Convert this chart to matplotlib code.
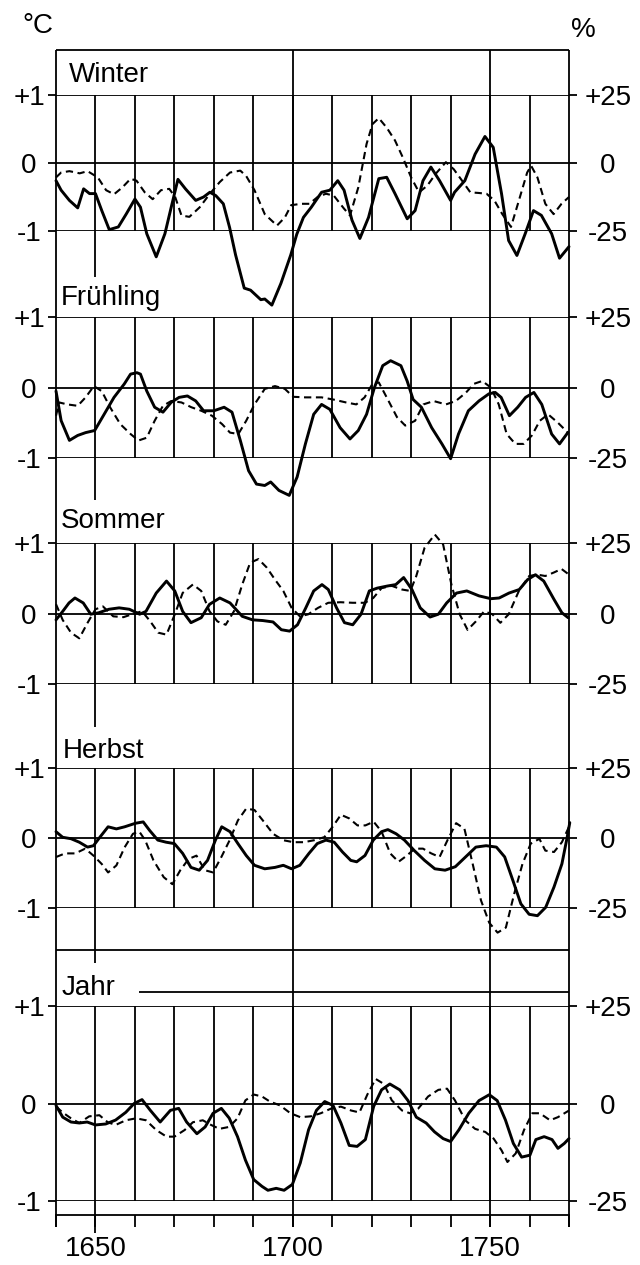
import matplotlib
matplotlib.use("Agg")
import matplotlib.pyplot as plt
import numpy as np

plt.rcParams['font.family'] = ['Liberation Sans', 'DejaVu Sans']

# Temperaturabweichung (°C, durchgezogen) und Niederschlag (%, gestrichelt)
WINTER_T = [(1640, -0.26), (1641.3, -0.40), (1643.4, -0.55), (1645.5, -0.66), (1647, -0.38),
            (1648.5, -0.45), (1650, -0.45), (1651.6, -0.70), (1653.5, -0.98), (1655.8, -0.94),
            (1657.8, -0.75), (1660, -0.53), (1661.4, -0.65), (1663, -1.04), (1665.4, -1.38),
            (1667.6, -1.04), (1669.2, -0.65), (1670.9, -0.24), (1672.8, -0.38), (1675.4, -0.55),
            (1677.4, -0.50), (1679, -0.43), (1680.5, -0.48), (1682.4, -0.60), (1684, -0.95),
            (1685.5, -1.35), (1687.7, -1.84), (1689.3, -1.87), (1691.9, -2.01), (1692.9, -2.00),
            (1694.7, -2.09), (1697, -1.77), (1699.5, -1.35), (1701, -1.05), (1702.7, -0.80),
            (1704.7, -0.65), (1707.3, -0.43), (1709.4, -0.40), (1711.4, -0.26), (1713, -0.40),
            (1715, -0.84), (1717, -1.11), (1719.2, -0.80), (1721.8, -0.23), (1723.8, -0.21),
            (1725.9, -0.45), (1729, -0.82), (1731, -0.70), (1733, -0.26), (1735, -0.06),
            (1737.2, -0.26), (1740, -0.55), (1741, -0.43), (1743.6, -0.26), (1746.2, 0.13),
            (1748.7, 0.39), (1750.8, 0.23), (1752.9, -0.45), (1754.7, -1.14), (1756.8, -1.36),
            (1758.9, -1.04), (1761, -0.70), (1763, -0.77), (1765.6, -1.04), (1767.6, -1.40),
            (1770, -1.23)]
WINTER_P = [(1640, -5.3), (1641.3, -3.5), (1643.4, -3), (1646, -3.8), (1648, -3), (1650.6, -5.3),
            (1652.7, -10), (1654.7, -11.5), (1656.8, -9), (1658.9, -5.8), (1660.4, -6.5),
            (1662.5, -10.8), (1664.5, -13.3), (1666.6, -10), (1668.7, -9.5), (1670.2, -12.5),
            (1671.8, -19.3), (1673.8, -19.8), (1676.4, -16.3), (1679, -11.3), (1681.5, -7),
            (1684.1, -3.5), (1686.7, -2.8), (1688.2, -4.8), (1690.3, -10), (1692.9, -18.8),
            (1696, -23), (1698, -20), (1699.6, -15.5), (1702.2, -15), (1704.2, -15), (1706.3, -12.5),
            (1708.4, -11.3), (1710.4, -12), (1713, -16.8), (1714.5, -19.3), (1716.6, -9),
            (1718.7, 7), (1720.2, 14.3), (1721.8, 16.5), (1723.8, 13), (1725.9, 8.3), (1727.9, 2),
            (1730, -5.3), (1732, -10.8), (1734.1, -8.3), (1736.2, -4), (1738.8, 0.3), (1740.8, -2.3),
            (1742.9, -6.5), (1745, -10.8), (1747, -11), (1749.1, -11.3), (1751.1, -13.8),
            (1753.1, -18.8), (1755.3, -23.5), (1757.3, -13.8), (1759.4, -3.5), (1760.4, -1),
            (1762, -5.3), (1764, -15), (1766.1, -18.8), (1768.1, -15), (1770, -12.5)]

FRUEHLING_T = [(1640, -0.05), (1641.3, -0.47), (1643.4, -0.75), (1645.5, -0.68), (1647.5, -0.64),
               (1649.8, -0.61), (1652.2, -0.38), (1654.7, -0.14), (1657.3, 0.05), (1658.9, 0.19),
               (1660.5, 0.21), (1661.4, 0.19), (1663, -0.05), (1665, -0.28), (1667.1, -0.35),
               (1669.2, -0.21), (1671.2, -0.14), (1673.3, -0.12), (1675.4, -0.19), (1677.4, -0.33),
               (1680, -0.33), (1682.6, -0.28), (1684.6, -0.35), (1686.7, -0.75), (1688.8, -1.18),
               (1690.8, -1.37), (1692.9, -1.39), (1694.4, -1.34), (1696.5, -1.46), (1699.1, -1.53),
               (1701.1, -1.27), (1703.2, -0.80), (1705.3, -0.38), (1707.3, -0.24), (1709.4, -0.31),
               (1712, -0.57), (1714.5, -0.73), (1716.6, -0.61), (1718.7, -0.38), (1720.7, 0),
               (1722.8, 0.31), (1724.8, 0.38), (1727.4, 0.31), (1729, 0.09), (1730.5, -0.17),
               (1732.6, -0.28), (1735.2, -0.57), (1737.8, -0.80), (1740, -1.01), (1742, -0.66),
               (1744.5, -0.33), (1747.2, -0.19), (1749.7, -0.09), (1751.3, -0.07), (1752.8, -0.14),
               (1754.9, -0.40), (1757, -0.28), (1759, -0.14), (1761.1, -0.07), (1763.1, -0.24),
               (1765.6, -0.66), (1767.6, -0.80), (1769.7, -0.64)]
FRUEHLING_P = [(1640, -10), (1640.8, -5.3), (1642.9, -6), (1645.5, -6.5), (1647.5, -3.5),
               (1649.6, 0.5), (1651.6, -1.3), (1653.7, -7), (1656.3, -13), (1658.9, -16.5),
               (1660.9, -18.8), (1663, -17.8), (1665, -11.8), (1667.1, -6.5), (1669.2, -4.8),
               (1671.8, -5.3), (1674.3, -7), (1676.9, -8.3), (1679.5, -10), (1682.1, -13),
               (1684.1, -16), (1686.2, -16.5), (1688.2, -11.8), (1690.3, -6), (1692.9, -0.5),
               (1695.5, 0.5), (1698, -0.5), (1700.1, -3.3), (1703.2, -3.5), (1707.3, -3.5),
               (1710.4, -4.3), (1713.5, -5.3), (1716.1, -6), (1718.2, -3.5), (1720.2, 1.3),
               (1721.8, 1.8), (1723.8, -3.5), (1726.4, -10.5), (1728.5, -13.5), (1731, -11.8),
               (1733.1, -6), (1735.7, -4.8), (1738.8, -6), (1741.3, -4.8), (1743.9, -1.8),
               (1745.9, 1.3), (1748, 2.3), (1750.2, 0), (1752.2, -6), (1754.2, -16.5),
               (1756.4, -20), (1758.5, -20), (1760.6, -17), (1762.6, -11.8), (1764.7, -9.5),
               (1767.2, -12.5), (1769.7, -16)]

SOMMER_T = [(1640, -0.09), (1641.7, 0.03), (1643.3, 0.15), (1644.8, 0.22), (1646.9, 0.15),
            (1648.8, -0.01), (1650.8, 0.01), (1653.4, 0.06), (1656, 0.08), (1658.6, 0.06),
            (1661.2, -0.01), (1662.8, 0.03), (1665.4, 0.29), (1668, 0.46), (1670.1, 0.32),
            (1672.1, 0.03), (1674.2, -0.13), (1676.8, -0.06), (1678.9, 0.13), (1681.5, 0.22),
            (1684.1, 0.15), (1687.2, -0.04), (1689.8, -0.09), (1692.4, -0.10), (1695, -0.12),
            (1697.1, -0.23), (1699.2, -0.25), (1701.2, -0.16), (1703.3, 0.08), (1705.3, 0.32),
            (1707.4, 0.41), (1709, 0.34), (1711.1, 0.08), (1713.1, -0.13), (1715.2, -0.16),
            (1717.3, -0.01), (1719.4, 0.32), (1721.4, 0.36), (1724, 0.39), (1726.1, 0.41),
            (1728.1, 0.51), (1730.2, 0.34), (1732.3, 0.08), (1734.8, -0.05), (1736.9, -0.01),
            (1739, 0.15), (1741.5, 0.29), (1744.1, 0.32), (1747.2, 0.25), (1750.2, 0.21),
            (1752.3, 0.22), (1754.8, 0.29), (1757.4, 0.34), (1759.5, 0.48), (1761.5, 0.55),
            (1763.6, 0.46), (1766.2, 0.20), (1768.2, 0.01), (1769.8, -0.06)]
SOMMER_P = [(1640, 3.3), (1641.7, -2.3), (1643.8, -6.8), (1645.9, -8.8), (1648, -3.3), (1650, 1.5),
            (1651.9, 2.5), (1654.5, -1), (1657.1, -1.3), (1659.2, -0.3), (1661.8, 0.8),
            (1663.9, -2.8), (1665.9, -6.8), (1668, -7.5), (1670.1, -0.3), (1672.1, 7.3),
            (1674.7, 10.3), (1676.8, 8), (1678.9, 0.8), (1680.9, -2.8), (1683, -4), (1685.1, 0.8),
            (1687.2, 10.3), (1689.2, 18), (1691.3, 19.3), (1693.4, 16.3), (1695.5, 12),
            (1697.6, 8), (1699.7, 2), (1701.8, -1), (1703.9, -0.3), (1706.4, 2), (1709, 3.8),
            (1712.1, 4), (1715.2, 3.8), (1718.3, 3.8), (1720.4, 5.5), (1722.5, 9), (1725.1, 9.8),
            (1727.7, 8.5), (1729.8, 8), (1731.3, 13.3), (1733.4, 23.3), (1736, 28), (1738.1, 24.5),
            (1740.2, 10.3), (1742.3, -0.3), (1744.3, -5.8), (1746.4, -2.8), (1748.5, 0.8),
            (1750.6, -0.3), (1752.6, -3.3), (1754.7, -0.3), (1757.3, 8), (1759.9, 13.3),
            (1761.9, 13.8), (1764, 13.3), (1766.1, 14.5), (1768.1, 15.8), (1770, 13.8)]

HERBST_T = [(1640, 0.09), (1641.7, 0.01), (1643.8, -0.01), (1645.9, -0.06), (1648, -0.13),
            (1649.5, -0.11), (1651.1, 0.01), (1653.2, 0.16), (1655.3, 0.13), (1657.4, 0.16),
            (1660.1, 0.21), (1662.1, 0.23), (1663.7, 0.11), (1665.8, -0.03), (1667.9, -0.06),
            (1670, -0.08), (1672.1, -0.22), (1674.2, -0.42), (1676.3, -0.46), (1678.4, -0.32),
            (1680.4, -0.03), (1682, 0.16), (1684.1, 0.09), (1686.1, -0.08), (1688.2, -0.25),
            (1690.3, -0.39), (1692.9, -0.44), (1695.5, -0.42), (1697.6, -0.39), (1699.7, -0.44),
            (1701.8, -0.39), (1704.1, -0.22), (1706.2, -0.08), (1708.4, -0.03), (1710.5, -0.06),
            (1712.6, -0.20), (1714.7, -0.32), (1716.2, -0.34), (1718.3, -0.25), (1720.4, -0.03),
            (1722.5, 0.09), (1724.1, 0.12), (1726.2, 0.06), (1728.3, -0.03), (1730.8, -0.18),
            (1733.4, -0.32), (1736, -0.44), (1738.6, -0.46), (1741.2, -0.41), (1743.8, -0.27),
            (1746.4, -0.13), (1749, -0.11), (1751.6, -0.13), (1753.7, -0.27), (1755.8, -0.61),
            (1757.8, -0.94), (1759.9, -1.09), (1762, -1.11), (1764.1, -0.99), (1766.2, -0.70),
            (1768.2, -0.37), (1769.5, 0.0), (1770.2, 0.22)]
HERBST_P = [(1640, -6.8), (1642.3, -5.5), (1644.9, -5.5), (1647.4, -3.8), (1649.5, -6.3),
            (1651.6, -9.3), (1653.2, -12.3), (1655.3, -9.8), (1657.4, -3.3), (1659.5, 1.5),
            (1661.1, 2.3), (1662.6, -0.8), (1664.7, -8), (1667.3, -14), (1669.5, -16.5),
            (1671.5, -11.5), (1673.6, -7.5), (1675.6, -6.3), (1677.7, -11.5), (1679.8, -12.3),
            (1681.9, -6.8), (1684, -0.8), (1686.1, 6.3), (1688.2, 10.5), (1690.3, 10),
            (1692.4, 6.3), (1695, 1.5), (1697.6, -0.8), (1700.2, -1.5), (1702.8, -1.5),
            (1705.4, -0.8), (1708, 0.3), (1710.1, 4), (1712.2, 8.3), (1714.3, 7), (1716.4, 4.5),
            (1718.4, 4.5), (1720.5, 5.8), (1722.5, 2.3), (1724.7, -5.5), (1726.8, -8.5),
            (1728.9, -6.3), (1730.9, -3.8), (1733, -3.8), (1735.1, -5.5), (1737.2, -6.8),
            (1739.2, -0.8), (1741.4, 5.3), (1743.5, 3.3), (1745.6, -9.3), (1747.7, -22.3),
            (1749.8, -30.3), (1751.9, -33.8), (1754, -32), (1756.1, -20), (1758.2, -9.3),
            (1760.3, -2), (1762.5, -0.3), (1764, -4.5), (1766.2, -5), (1768.2, -1.5), (1770, 4)]

JAHR_T = [(1640, -0.02), (1641.7, -0.14), (1643.8, -0.19), (1645.9, -0.20), (1647.9, -0.19),
          (1650, -0.22), (1652.6, -0.21), (1655.1, -0.17), (1657.7, -0.09), (1659.8, 0),
          (1661.8, 0.04), (1663.9, -0.07), (1666.4, -0.19), (1669, -0.07), (1671.1, -0.05),
          (1673.1, -0.19), (1675.7, -0.31), (1677.8, -0.24), (1679.8, -0.10), (1681.9, -0.05),
          (1683.9, -0.15), (1686, -0.34), (1688, -0.58), (1690.1, -0.78), (1692.2, -0.85),
          (1693.7, -0.89), (1695.8, -0.87), (1697.8, -0.89), (1699.9, -0.83), (1701.9, -0.61),
          (1704, -0.27), (1706, -0.07), (1708.1, 0.02), (1710.2, -0.02), (1712.2, -0.20),
          (1714.3, -0.43), (1716.3, -0.44), (1718.4, -0.37), (1720.5, -0.03), (1722.5, 0.14),
          (1724.6, 0.20), (1727.1, 0.14), (1729.2, 0.03), (1731.3, -0.14), (1733.8, -0.20),
          (1735.9, -0.29), (1738.1, -0.36), (1740, -0.39), (1742.1, -0.27), (1744.6, -0.10),
          (1747.2, 0.03), (1749.8, 0.09), (1751.8, 0.03), (1753.9, -0.17), (1755.9, -0.41),
          (1758, -0.55), (1760.1, -0.53), (1761.6, -0.37), (1763.7, -0.34), (1765.7, -0.37),
          (1767.2, -0.46), (1768.8, -0.41), (1770, -0.36)]
JAHR_P = [(1640, -0.8), (1641.7, -2.3), (1643.8, -3.8), (1645.9, -5), (1648.4, -3.3), (1651, -3),
          (1653.1, -4.8), (1655.1, -5.5), (1657.7, -4.3), (1660.3, -3.8), (1662.8, -4.3),
          (1665.4, -6.8), (1668, -8.5), (1670, -8.5), (1672.6, -6.8), (1674.7, -4.8),
          (1677.2, -4.3), (1679.3, -5.5), (1681.4, -6.5), (1683.9, -6), (1686, -3.8), (1688, 0.8),
          (1690.1, 2.3), (1692.2, 1.8), (1694.2, 0.5), (1696.8, -0.5), (1699.4, -2.5),
          (1701.9, -3.5), (1704.5, -3.3), (1707.1, -2.5), (1709.7, -1.3), (1712.2, -0.8),
          (1714.8, -1.8), (1716.9, -2.3), (1718.9, 2.3), (1721, 6.3), (1723.1, 5), (1725.1, 0.8),
          (1727.7, -1.8), (1729.7, -2.5), (1731.8, -1.3), (1734.3, 1.8), (1736.9, 3.5),
          (1739.1, 3.8), (1741.1, 0.8), (1743.7, -4.3), (1746.2, -6.5), (1748.8, -7.3),
          (1750.9, -9), (1752.9, -12), (1754.4, -15), (1756.5, -12.8), (1758.6, -6.8),
          (1760.7, -2.5), (1762.6, -2.5), (1765.2, -4.3), (1767.2, -3.5), (1770, -1.8)]

SEASONS = ['Winter', 'Frühling', 'Sommer', 'Herbst', 'Jahr']
TEMP = [WINTER_T, FRUEHLING_T, SOMMER_T, HERBST_T, JAHR_T]
PREC = [WINTER_P, FRUEHLING_P, SOMMER_P, HERBST_P, JAHR_P]
YEAR_TICKS = list(range(1640, 1771, 10))
YEAR_LABELS = ['1650', '1700', '1750']

# layout in pixels (figure 640 x 1265)
W, H = 640, 1265
X0, X1 = 56, 569                      # columns of 1640 and 1770
ROWS = [(95, 231), (317, 458), (543, 684), (768, 908), (1006, 1201)]   # rows of +1 / -1
TITLE_POS = [(69, 82), (61, 305), (61, 528), (63, 758), (62, 995)]
LONG_1650 = [277, 500, 727, 963, 1233]  # lower end of the 1650 line per panel
LW = 1.3
FS = 20
PT = 72 / 100                          # points per pixel

fig = plt.figure(figsize=(W / 100, H / 100), dpi=100)

# frame and grid drawn in (year, pixel row) coordinates
ppy = (X1 - X0) / 130
bg = fig.add_axes([0, 0, 1, 1])
bg.set_xlim(1640 - X0 / ppy, 1640 + (W - X0) / ppy)
bg.set_ylim(H, 0)
bg.set_axis_off()
bg.vlines([1640, 1770, 1700, 1750], 50, 1227, color='k', lw=LW)
bg.hlines(50, 1640, 1770, color='k', lw=LW)
bg.hlines(950, 1640, 1770, color='k', lw=LW)
bg.hlines(992, 1661, 1770, color='k', lw=LW)
for (top, bot), low in zip(ROWS, LONG_1650):
    bg.vlines(range(1660, 1770, 10), top, bot, color='k', lw=LW)
    bg.vlines(1650, top, low, color='k', lw=LW)

fig.text(22 / W, 1 - 33 / H, '°C', fontsize=FS, va='baseline')
fig.text(571 / W, 1 - 37 / H, '%', fontsize=FS, va='baseline')

for i, name in enumerate(SEASONS):
    top, bot = ROWS[i]
    ax = fig.add_axes([X0 / W, 1 - bot / H, (X1 - X0) / W, (bot - top) / H])
    ax.set_xlim(1640, 1770)
    ax.set_ylim(-1, 1)
    ax.patch.set_visible(False)
    for s in ax.spines.values():
        s.set_visible(False)
    for v in (-1, 0, 1):
        ax.axhline(v, color='k', lw=LW)
    ax.set_yticks([-1, 0, 1], ['-1', '0', '+1'])
    ax.tick_params(axis='y', length=8 * PT, width=LW, pad=19 * PT, labelsize=FS)
    for t in ax.get_yticklabels():
        t.set_ha('center')

    if name == 'Jahr':
        ax.spines['bottom'].set_visible(True)
        ax.spines['bottom'].set_linewidth(LW)
        ax.spines['bottom'].set_position(('outward', 14 * PT))
        ax.set_xticks(YEAR_TICKS,
                      [str(y) if str(y) in YEAR_LABELS else '' for y in YEAR_TICKS])
        ax.tick_params(axis='x', length=12 * PT, width=LW, pad=9 * PT, labelsize=FS)
    else:
        ax.tick_params(axis='x', bottom=False, labelbottom=False)

    ax2 = ax.twinx()
    ax2.set_ylim(-25, 25)
    ax2.patch.set_visible(False)
    for s in ax2.spines.values():
        s.set_visible(False)
    ax2.set_yticks([-25, 0, 25], ['-25', '0', '+25'])
    ax2.tick_params(axis='y', length=8 * PT, width=LW, pad=31 * PT, labelsize=FS)
    for t in ax2.get_yticklabels():
        t.set_ha('center')

    t_yr, t_val = zip(*TEMP[i])
    p_yr, p_val = zip(*PREC[i])
    ax.plot(t_yr, t_val, color='k', lw=2.1, clip_on=False,
            solid_joinstyle='round', solid_capstyle='round')
    ax2.plot(p_yr, p_val, color='k', lw=1.5, ls='--', dashes=(3.5, 2.2), clip_on=False)

    tx, ty = TITLE_POS[i]
    fig.text(tx / W, 1 - ty / H, name, fontsize=FS, va='baseline')

fig.savefig('out.png', dpi=100)
